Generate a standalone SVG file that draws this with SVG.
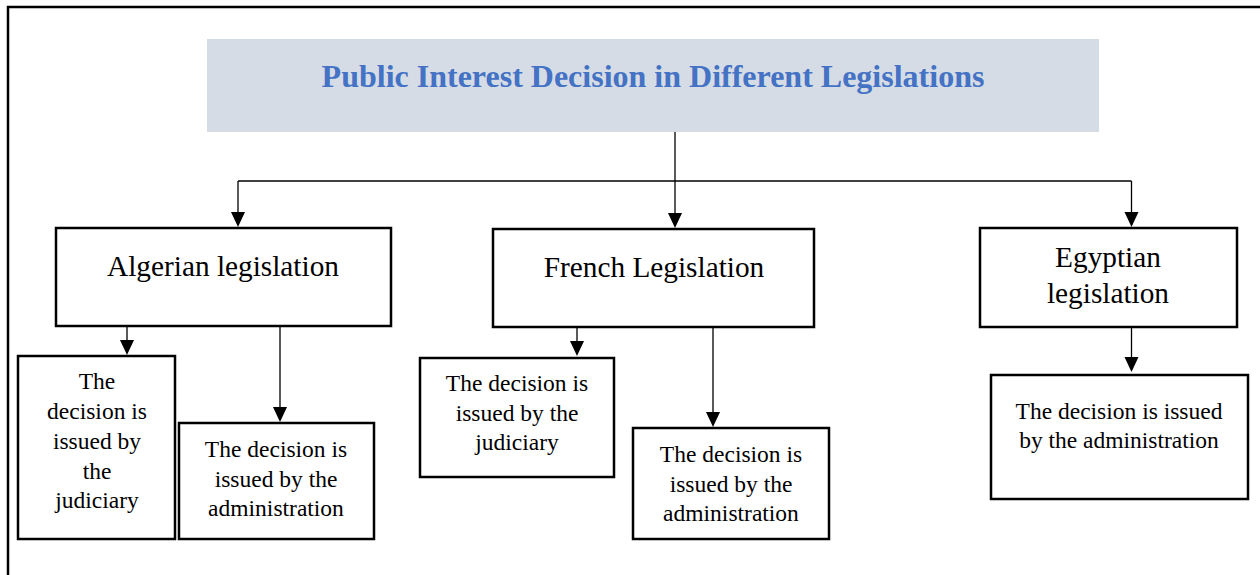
<svg xmlns="http://www.w3.org/2000/svg" width="1260" height="575" viewBox="0 0 1260 575">
  <style>
    .box { fill: #ffffff; stroke: #000000; stroke-width: 2.5; }
    .link { fill: none; stroke: #000000; stroke-width: 1.3; }
    .serif { font-family: "Times New Roman", "Liberation Serif", Tinos, "DejaVu Serif", serif; text-anchor: middle; }
    .title { font-weight: bold; font-size: 32px; fill: #4472c4; }
    .main { font-size: 29.3px; fill: #000000; }
    .sub { font-size: 23.5px; fill: #000000; }
  </style>

  <rect width="1260" height="575" fill="#ffffff"/>
  <!-- page frame -->
  <path d="M8,575 L8,7 L1260,7" fill="none" stroke="#000000" stroke-width="2.5"/>

  <!-- connectors -->
  <g id="connectors">
    <path class="link" d="M675,132 L675,181"/>
    <path class="link" d="M238,181 L1131.5,181"/>
    <path class="link" d="M238,181 L238,213"/>
    <path class="link" d="M675,181 L675,214"/>
    <path class="link" d="M1131.5,181 L1131.5,213"/>
    <path class="link" d="M127,326 L127,341"/>
    <path class="link" d="M280,326 L280,408"/>
    <path class="link" d="M577,327 L577,342"/>
    <path class="link" d="M713,327 L713,413"/>
    <path class="link" d="M1131.5,327 L1131.5,358"/>
    <!-- arrowheads -->
    <g fill="#000000">
      <path d="M231,212 L245,212 L238,227 Z"/>
      <path d="M668,213 L682,213 L675,228 Z"/>
      <path d="M1124.5,212 L1138.5,212 L1131.5,227 Z"/>
      <path d="M120,340 L134,340 L127,355 Z"/>
      <path d="M273,407 L287,407 L280,422 Z"/>
      <path d="M570,341 L584,341 L577,356 Z"/>
      <path d="M706,412 L720,412 L713,427 Z"/>
      <path d="M1124.5,357 L1138.5,357 L1131.5,372 Z"/>
    </g>
  </g>

  <g id="title">
    <rect x="207" y="39" width="892" height="93" fill="#d6dce5"/>
    <text class="serif title" x="653" y="87">Public Interest Decision in Different Legislations</text>
  </g>

  <g id="algerian">
    <rect class="box" x="56" y="228" width="335" height="98"/>
    <text class="serif main" x="223" y="276">Algerian legislation</text>
  </g>

  <g id="french">
    <rect class="box" x="493" y="229" width="321" height="98"/>
    <text class="serif main" x="654" y="277">French Legislation</text>
  </g>

  <g id="egyptian">
    <rect class="box" x="980" y="228" width="257" height="99"/>
    <text class="serif main" x="1108" y="267">Egyptian</text>
    <text class="serif main" x="1108" y="303">legislation</text>
  </g>

  <g id="algerian-judiciary">
    <rect class="box" x="18" y="356" width="157" height="183"/>
    <text class="serif sub" x="97" y="389">The</text>
    <text class="serif sub" x="97" y="419">decision is</text>
    <text class="serif sub" x="97" y="449">issued by</text>
    <text class="serif sub" x="97" y="479">the</text>
    <text class="serif sub" x="97" y="508">judiciary</text>
  </g>

  <g id="algerian-administration">
    <rect class="box" x="179" y="423" width="195" height="116"/>
    <text class="serif sub" x="276" y="457">The decision is</text>
    <text class="serif sub" x="276" y="487">issued by the</text>
    <text class="serif sub" x="276" y="516">administration</text>
  </g>

  <g id="french-judiciary">
    <rect class="box" x="420" y="358" width="194" height="119"/>
    <text class="serif sub" x="517" y="391">The decision is</text>
    <text class="serif sub" x="517" y="421">issued by the</text>
    <text class="serif sub" x="517" y="450">judiciary</text>
  </g>

  <g id="french-administration">
    <rect class="box" x="633" y="428" width="196" height="111"/>
    <text class="serif sub" x="731" y="462">The decision is</text>
    <text class="serif sub" x="731" y="492">issued by the</text>
    <text class="serif sub" x="731" y="521">administration</text>
  </g>

  <g id="egyptian-administration">
    <rect class="box" x="991" y="375" width="257" height="124"/>
    <text class="serif sub" x="1119" y="419">The decision is issued</text>
    <text class="serif sub" x="1119" y="448">by the administration</text>
  </g>
</svg>
